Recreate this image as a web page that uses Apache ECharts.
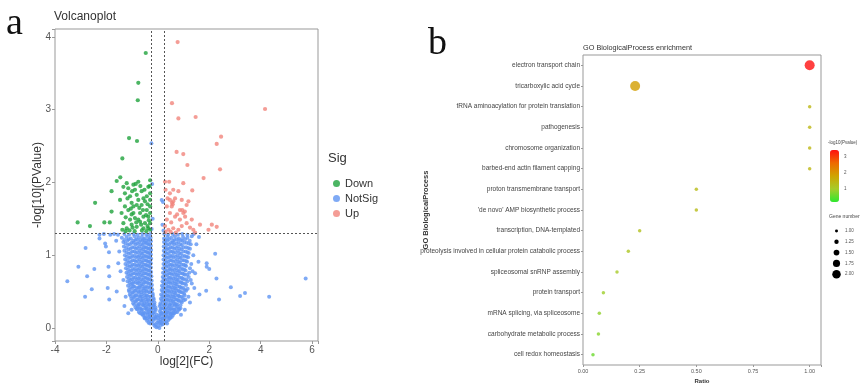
<!DOCTYPE html>
<html>
<head>
<meta charset="utf-8">
<script src="https://cdn.jsdelivr.net/npm/echarts@6/dist/echarts.min.js"></script>
<style>
  html, body { margin: 0; padding: 0; background: #fff; }
  #main { width: 866px; height: 383px; }
</style>
</head>
<body>
<div id="main"></div>
<script>
// panel a: volcano points [log2FC, -log10 P]
const downPoints = [
  [-0.47,3.78],[-0.76,3.37],[-0.78,3.13],[-1.12,2.61],[-0.81,2.57],[-1.38,2.33],[-1.60,2.02],[-1.46,2.07],
  [-2.44,1.72],[-1.80,1.88],[-3.12,1.45],[-2.64,1.40],[-2.08,1.45],[-1.87,1.45],[-1.80,1.60],[-0.30,2.03],[-0.32,1.95],
  [-1.34,1.94],[-1.28,1.85],[-1.15,1.92],[-1.08,1.81],[-0.95,1.97],[-0.89,1.90],[-0.82,1.83],[-1.02,1.72],
  [-1.28,1.67],[-1.15,1.62],[-0.95,1.58],[-0.76,1.76],[-0.63,1.69],[-0.50,1.74],[-0.43,1.62],[-0.37,1.94],
  [-0.30,1.85],[-0.30,1.76],[-0.37,1.53],[-0.56,1.53],[-0.69,1.46],[-0.82,1.39],[-1.02,1.42],[-1.21,1.37],
  [-1.34,1.44],[-1.08,1.49],[-0.89,1.51],[-0.69,1.58],[-0.50,1.44],[-0.37,1.37],[-0.30,1.44],[-0.30,1.58],
  [-0.30,1.67],[-0.63,1.88],[-0.76,2.01],[-1.21,1.99],[-1.47,1.76],[-1.41,1.58],[-1.38,1.35],[-0.56,1.78],
  [-0.43,1.81],[-0.95,1.67],[-0.82,1.69],[-1.02,1.56],[-0.76,1.49],[-0.56,1.37],[-0.30,1.35],[-0.45,1.33],
  [-0.62,1.34],[-0.90,1.33],[-1.10,1.34],[-1.25,1.33],[-0.52,1.90],[-0.68,1.95],[-0.86,1.98],[-1.00,1.88],
  [-1.18,1.78],[-0.40,1.70],[-0.35,1.48],[-0.72,1.65],[-1.05,1.64],[-1.25,1.52],[-0.58,1.62],[-0.46,1.55],
  [-0.65,1.42],[-0.84,1.45],[-0.98,1.38],[-0.40,1.40]
];
const upPoints = [
  [0.77,3.93],[0.55,3.09],[0.80,2.88],[1.47,2.90],[4.17,3.01],[2.46,2.63],[2.29,2.53],[0.73,2.42],
  [0.99,2.39],[1.15,2.24],[2.42,2.18],[1.78,2.06],[0.99,1.99],[0.28,2.01],[0.44,2.01],[1.34,1.89],
  [0.47,1.76],[0.60,1.74],[0.54,1.67],[0.67,1.78],[0.93,1.76],[0.99,1.58],[0.86,1.62],[1.12,1.69],
  [1.19,1.74],[1.06,1.53],[0.86,1.49],[0.67,1.53],[0.47,1.58],[0.35,1.49],[0.28,1.40],[0.41,1.35],
  [0.60,1.37],[0.80,1.35],[0.93,1.40],[1.12,1.44],[1.32,1.49],[1.38,1.35],[1.64,1.42],[1.97,1.35],
  [2.10,1.42],[2.29,1.39],[0.35,1.67],[0.80,1.88],[0.60,1.90],[0.47,1.85],[0.55,1.72],[0.58,1.70],
  [0.95,1.62],[1.05,1.60],[0.75,1.56],[0.52,1.45],[0.30,1.32],[0.50,1.32],[0.70,1.31],[1.45,1.31],
  [1.25,1.38],[0.38,1.78],[0.30,1.90]
];
const notSigPoints = [
  [-0.2,0.06],[-0.13,0.03],[-0.06,0.01],[0.0,0.02],[0.06,0.0],[0.12,0.04],[0.19,0.05],[-0.03,0.07],[0.09,0.08],
  [-0.42,0.1],[-0.33,0.12],[-0.25,0.09],[-0.16,0.11],[-0.08,0.13],[0.02,0.1],[0.1,0.12],[0.17,0.1],[0.25,0.13],[0.33,0.09],[0.41,0.11],
  [-0.57,0.17],[-0.48,0.15],[-0.39,0.18],[-0.3,0.16],[-0.21,0.19],[-0.12,0.16],[-0.04,0.18],[0.05,0.17],[0.14,0.19],[0.22,0.15],[0.31,0.18],[0.4,0.16],[0.49,0.19],[0.58,0.17],
  [-0.74,0.22],[-0.64,0.24],[-0.54,0.21],[-0.45,0.25],[-0.35,0.22],[-0.26,0.24],[-0.17,0.21],[-0.08,0.25],[0.08,0.23],[0.17,0.21],[0.26,0.25],[0.36,0.22],[0.45,0.24],[0.55,0.21],[0.65,0.25],[0.76,0.22],
  [-0.87,0.28],[-0.77,0.3],[-0.66,0.27],[-0.56,0.31],[-0.46,0.28],[-0.37,0.3],[-0.27,0.27],[-0.17,0.31],[-0.09,0.28],[0.07,0.3],[0.15,0.27],[0.25,0.31],[0.35,0.28],[0.45,0.3],[0.55,0.27],[0.66,0.31],[0.76,0.29],[0.88,0.27],
  [-0.96,0.34],[-0.85,0.36],[-0.74,0.33],[-0.63,0.37],[-0.53,0.34],[-0.43,0.36],[-0.33,0.33],[-0.23,0.37],[-0.13,0.35],[0.1,0.34],[0.2,0.36],[0.3,0.33],[0.41,0.37],[0.51,0.34],[0.61,0.36],[0.71,0.33],[0.82,0.37],[0.93,0.35],
  [-1.03,0.4],[-0.91,0.42],[-0.8,0.39],[-0.69,0.43],[-0.59,0.4],[-0.48,0.42],[-0.38,0.39],[-0.28,0.43],[-0.17,0.41],[0.12,0.4],[0.22,0.42],[0.33,0.39],[0.43,0.43],[0.53,0.4],[0.64,0.42],[0.74,0.39],[0.85,0.43],[0.97,0.41],[1.07,0.39],
  [-1.09,0.46],[-0.97,0.48],[-0.86,0.45],[-0.75,0.49],[-0.64,0.46],[-0.54,0.48],[-0.43,0.45],[-0.32,0.49],[-0.2,0.47],[0.13,0.46],[0.24,0.48],[0.35,0.45],[0.46,0.49],[0.57,0.46],[0.68,0.48],[0.79,0.45],[0.9,0.49],[1.02,0.47],
  [-1.13,0.52],[-1.01,0.54],[-0.89,0.51],[-0.77,0.55],[-0.66,0.52],[-0.55,0.54],[-0.44,0.51],[-0.33,0.55],[-0.22,0.53],[0.15,0.52],[0.26,0.54],[0.37,0.51],[0.48,0.55],[0.59,0.52],[0.7,0.54],[0.81,0.51],[0.93,0.55],[1.05,0.52],[1.16,0.54],
  [-1.16,0.58],[-1.04,0.6],[-0.92,0.57],[-0.8,0.61],[-0.69,0.58],[-0.57,0.6],[-0.46,0.57],[-0.35,0.61],[-0.23,0.59],[0.16,0.58],[0.27,0.6],[0.39,0.57],[0.5,0.61],[0.62,0.58],[0.73,0.6],[0.85,0.57],[0.97,0.61],[1.1,0.59],
  [-1.18,0.64],[-1.06,0.66],[-0.94,0.63],[-0.82,0.67],[-0.7,0.64],[-0.58,0.66],[-0.47,0.63],[-0.36,0.67],[-0.24,0.65],[0.18,0.64],[0.29,0.66],[0.41,0.63],[0.53,0.67],[0.65,0.64],[0.77,0.66],[0.89,0.63],[1.01,0.67],[1.15,0.64],[1.28,0.66],
  [-1.2,0.7],[-1.08,0.72],[-0.95,0.69],[-0.83,0.73],[-0.71,0.7],[-0.59,0.72],[-0.47,0.69],[-0.36,0.73],[-0.25,0.71],[0.19,0.7],[0.31,0.72],[0.43,0.69],[0.55,0.73],[0.67,0.7],[0.79,0.72],[0.92,0.69],[1.05,0.73],[1.2,0.7],
  [-1.22,0.76],[-1.09,0.78],[-0.96,0.75],[-0.84,0.79],[-0.72,0.76],[-0.6,0.78],[-0.48,0.75],[-0.37,0.79],[-0.26,0.77],[0.2,0.76],[0.32,0.78],[0.44,0.75],[0.57,0.79],[0.69,0.76],[0.82,0.78],[0.95,0.75],[1.08,0.79],[1.22,0.76],[1.35,0.78],
  [-1.24,0.82],[-1.1,0.84],[-0.97,0.81],[-0.84,0.85],[-0.72,0.82],[-0.6,0.84],[-0.49,0.81],[-0.38,0.85],[-0.27,0.83],[0.21,0.82],[0.33,0.84],[0.46,0.81],[0.58,0.85],[0.71,0.82],[0.84,0.84],[0.97,0.81],[1.1,0.85],[1.25,0.82],
  [-1.26,0.88],[-1.12,0.9],[-0.98,0.87],[-0.85,0.91],[-0.72,0.88],[-0.6,0.9],[-0.48,0.87],[-0.37,0.91],[-0.27,0.89],[0.22,0.88],[0.34,0.9],[0.47,0.87],[0.6,0.91],[0.73,0.88],[0.86,0.9],[1.0,0.87],[1.14,0.91],[1.3,0.88],
  [-1.27,0.94],[-1.12,0.96],[-0.98,0.93],[-0.84,0.97],[-0.71,0.94],[-0.59,0.96],[-0.47,0.93],[-0.36,0.97],[-0.26,0.95],[0.22,0.94],[0.35,0.96],[0.48,0.93],[0.61,0.97],[0.75,0.94],[0.88,0.96],[1.02,0.93],[1.18,0.97],
  [-1.28,1.0],[-1.13,1.02],[-0.99,0.99],[-0.85,1.03],[-0.72,1.0],[-0.6,1.02],[-0.48,0.99],[-0.37,1.03],[-0.27,1.01],[0.22,1.0],[0.35,1.02],[0.48,0.99],[0.62,1.03],[0.76,1.0],[0.9,1.02],[1.05,0.99],[1.2,1.03],[1.38,1.0],
  [-1.3,1.06],[-1.14,1.08],[-0.99,1.05],[-0.85,1.09],[-0.71,1.06],[-0.58,1.08],[-0.47,1.05],[-0.36,1.09],[-0.26,1.07],[0.23,1.06],[0.36,1.08],[0.5,1.05],[0.64,1.09],[0.78,1.06],[0.92,1.08],[1.08,1.05],[1.25,1.09],
  [-1.32,1.12],[-1.16,1.14],[-1.0,1.11],[-0.86,1.15],[-0.72,1.12],[-0.59,1.14],[-0.47,1.11],[-0.36,1.15],[-0.27,1.13],[0.23,1.12],[0.36,1.14],[0.5,1.11],[0.64,1.15],[0.78,1.12],[0.93,1.14],[1.1,1.11],[1.28,1.15],
  [-1.34,1.18],[-1.18,1.2],[-1.02,1.17],[-0.87,1.21],[-0.73,1.18],[-0.6,1.2],[-0.48,1.17],[-0.37,1.21],[-0.27,1.19],[0.24,1.18],[0.37,1.2],[0.51,1.17],[0.65,1.21],[0.8,1.18],[0.95,1.2],[1.12,1.17],
  [-1.4,1.24],[-1.22,1.25],[-1.05,1.23],[-0.9,1.26],[-0.75,1.24],[-0.62,1.25],[-0.5,1.23],[-0.39,1.26],[-0.28,1.24],[0.24,1.23],[0.37,1.25],[0.52,1.24],[0.66,1.26],[0.82,1.23],[0.98,1.25],[1.15,1.24],[1.32,1.26],
  [-2.27,1.28],[-2.1,1.29],[-1.85,1.28],[-1.7,1.29],[-1.55,1.28],[-1.3,1.29],[-1.12,1.28],[-0.95,1.29],[-0.78,1.28],[-0.6,1.29],[-0.45,1.28],[-0.3,1.29],[0.25,1.29],[0.4,1.28],[0.58,1.29],[0.78,1.28],[0.95,1.29],[1.15,1.28],[1.4,1.29],
  [-0.36,0.07],[-0.09,0.05],[0.05,0.06],[0.15,0.07],[0.36,0.06],
  [-0.52,0.14],[-0.43,0.13],[-0.35,0.15],[-0.26,0.14],[-0.17,0.13],[-0.08,0.15],[0.0,0.14],[0.09,0.15],[0.19,0.13],[0.28,0.14],[0.37,0.15],[0.46,0.13],[0.54,0.15],
  [-0.69,0.2],[-0.59,0.19],[-0.5,0.2],[-0.4,0.21],[-0.3,0.19],[-0.21,0.2],[-0.12,0.22],[0.12,0.2],[0.21,0.19],[0.31,0.2],[0.4,0.21],[0.5,0.19],[0.6,0.2],[0.7,0.22],
  [-0.82,0.26],[-0.71,0.27],[-0.61,0.25],[-0.5,0.27],[-0.41,0.26],[-0.31,0.25],[-0.22,0.27],[-0.13,0.26],[0.11,0.26],[0.2,0.27],[0.3,0.25],[0.4,0.27],[0.5,0.26],[0.6,0.25],[0.71,0.27],[0.83,0.26],
  [-0.92,0.32],[-0.8,0.31],[-0.7,0.33],[-0.6,0.32],[-0.5,0.31],[-0.41,0.33],[-0.31,0.32],[-0.21,0.31],[-0.13,0.32],[0.12,0.32],[0.25,0.31],[0.35,0.33],[0.46,0.32],[0.56,0.31],[0.66,0.33],[0.77,0.32],[0.88,0.31],
  [-0.99,0.38],[-0.88,0.37],[-0.77,0.39],[-0.67,0.38],[-0.56,0.37],[-0.46,0.39],[-0.36,0.38],[-0.25,0.37],[-0.16,0.39],[0.16,0.38],[0.27,0.37],[0.38,0.39],[0.48,0.38],[0.58,0.37],[0.69,0.39],[0.79,0.38],[0.9,0.37],[1.01,0.38],
  [-1.06,0.44],[-0.95,0.43],[-0.84,0.45],[-0.73,0.44],[-0.62,0.43],[-0.51,0.45],[-0.41,0.44],[-0.3,0.43],[-0.2,0.45],[0.17,0.44],[0.28,0.43],[0.39,0.45],[0.49,0.44],[0.6,0.43],[0.7,0.45],[0.81,0.44],[0.92,0.43],[1.04,0.45],
  [-1.11,0.5],[-0.99,0.49],[-0.88,0.51],[-0.76,0.5],[-0.65,0.49],[-0.55,0.51],[-0.44,0.5],[-0.33,0.49],[-0.24,0.51],[0.19,0.5],[0.3,0.49],[0.41,0.51],[0.52,0.5],[0.63,0.49],[0.74,0.51],[0.85,0.5],[0.96,0.49],[1.1,0.51],
  [-1.07,0.56],[-0.95,0.57],[-0.83,0.55],[-0.72,0.56],[-0.61,0.57],[-0.5,0.55],[-0.39,0.56],[-0.28,0.57],[0.21,0.56],[0.32,0.55],[0.43,0.57],[0.54,0.56],[0.65,0.55],[0.76,0.57],[0.87,0.56],[1.0,0.55],
  [-1.1,0.62],[-0.98,0.61],[-0.86,0.63],[-0.75,0.62],[-0.63,0.61],[-0.52,0.63],[-0.41,0.62],[-0.29,0.61],[0.22,0.62],[0.34,0.61],[0.45,0.63],[0.57,0.62],[0.68,0.61],[0.8,0.63],[0.92,0.62],[1.05,0.61],
  [-1.12,0.68],[-1.0,0.67],[-0.88,0.69],[-0.76,0.68],[-0.64,0.67],[-0.53,0.69],[-0.41,0.68],[-0.3,0.67],[0.24,0.68],[0.36,0.67],[0.48,0.69],[0.6,0.68],[0.72,0.67],[0.84,0.69],[0.96,0.68],[1.1,0.67],
  [-1.15,0.74],[-1.02,0.73],[-0.89,0.75],[-0.77,0.74],[-0.65,0.73],[-0.53,0.75],[-0.42,0.74],[-0.31,0.73],[0.26,0.74],[0.38,0.73],[0.5,0.75],[0.62,0.74],[0.74,0.73],[0.87,0.75],[1.0,0.74],[1.14,0.73],
  [-1.16,0.8],[-1.03,0.79],[-0.9,0.81],[-0.78,0.8],[-0.66,0.79],[-0.54,0.81],[-0.43,0.8],[-0.32,0.79],[0.27,0.8],[0.39,0.79],[0.51,0.81],[0.64,0.8],[0.77,0.79],[0.9,0.81],[1.03,0.8],
  [-1.18,0.86],[-1.04,0.85],[-0.91,0.87],[-0.78,0.86],[-0.66,0.85],[-0.54,0.87],[-0.43,0.86],[-0.32,0.85],[0.28,0.86],[0.4,0.85],[0.53,0.87],[0.66,0.86],[0.79,0.85],[0.92,0.87],[1.06,0.86],
  [-1.19,0.92],[-1.05,0.91],[-0.91,0.93],[-0.78,0.92],[-0.65,0.91],[-0.53,0.93],[-0.42,0.92],[-0.31,0.91],[0.28,0.92],[0.41,0.91],[0.54,0.93],[0.68,0.92],[0.81,0.91],[0.95,0.93],[1.1,0.92],
  [-1.2,0.98],[-1.06,0.97],[-0.92,0.99],[-0.78,0.98],[-0.66,0.97],[-0.54,0.99],[-0.42,0.98],[-0.32,0.97],[0.28,0.98],[0.42,0.97],[0.55,0.99],[0.69,0.98],[0.83,0.97],[0.97,0.99],[1.12,0.98],
  [-1.21,1.04],[-1.06,1.03],[-0.92,1.05],[-0.78,1.04],[-0.65,1.03],[-0.53,1.05],[-0.42,1.04],[-0.31,1.03],[0.29,1.04],[0.42,1.03],[0.56,1.05],[0.7,1.04],[0.84,1.03],[0.99,1.05],[1.15,1.04],
  [-1.23,1.1],[-1.07,1.09],[-0.92,1.11],[-0.79,1.1],[-0.65,1.09],[-0.53,1.11],[-0.42,1.1],[-0.31,1.09],[0.3,1.1],[0.43,1.09],[0.57,1.11],[0.71,1.1],[0.85,1.09],[1.0,1.11],[1.18,1.1],
  [-1.25,1.16],[-1.09,1.15],[-0.94,1.17],[-0.8,1.16],[-0.66,1.15],[-0.54,1.17],[-0.42,1.16],[-0.32,1.15],[0.3,1.16],[0.44,1.15],[0.58,1.17],[0.72,1.16],[0.87,1.15],[1.03,1.17],[1.2,1.16],
  [-1.3,1.21],[-1.13,1.22],[-0.96,1.2],[-0.82,1.22],[-0.68,1.21],[-0.55,1.22],[-0.44,1.2],[-0.33,1.22],[0.3,1.21],[0.44,1.22],[0.59,1.2],[0.74,1.22],[0.9,1.21],[1.06,1.22],[1.24,1.2],
  [-3.52,0.64],[-3.09,0.84],[-2.81,1.1],[-2.75,0.71],[-2.57,0.53],[-2.83,0.43],[-2.47,0.81],[-2.27,1.23],[-1.92,0.84],[-1.89,0.71],
  [-1.95,0.55],[-1.89,0.39],[-1.6,0.5],[-1.54,0.89],[-1.34,0.66],[-1.25,0.43],[-2.05,1.16],[-1.02,0.25],[-2.02,1.12],[-1.9,1.04],
  [-1.62,1.2],[-1.5,1.05],[-1.45,0.78],[-1.3,0.3],[-1.15,0.2],[2.23,1.02],[1.9,0.84],[2.0,0.81],[2.28,0.68],[1.88,0.51],
  [1.62,0.46],[2.84,0.56],[2.38,0.39],[3.2,0.44],[3.39,0.48],[4.33,0.43],[5.75,0.68],[1.58,0.91],[1.45,0.75],[1.19,0.43],
  [1.32,0.61],[1.9,0.89],[1.5,1.15],[1.6,1.25],[1.42,0.55],[1.25,0.35],[1.05,0.25],[0.9,0.18],
  [-0.3,0.06],[0.28,0.07],[-0.5,0.13],[0.48,0.14],[-0.62,0.19],[0.64,0.2],[-0.8,0.26],[0.82,0.25],
  [-0.25,2.54],[-0.22,1.98],[0.15,1.76],[0.2,1.73],[-0.2,1.5],[0.18,1.42],[-0.24,1.36],[0.22,1.34]
];
const fcCut = 0.263;
const pCut = 1.301;

// panel b: GO enrichment
const goTerms = [
  'electron transport chain',
  'tricarboxylic acid cycle',
  'tRNA aminoacylation for protein translation',
  'pathogenesis',
  'chromosome organization',
  'barbed-end actin filament capping',
  'proton transmembrane transport',
  "'de novo' AMP biosynthetic process",
  'transcription, DNA-templated',
  'proteolysis involved in cellular protein catabolic process',
  'spliceosomal snRNP assembly',
  'protein transport',
  'mRNA splicing, via spliceosome',
  'carbohydrate metabolic process',
  'cell redox homeostasis'
];
const goRatio = [1.0, 0.23, 1.0, 1.0, 1.0, 1.0, 0.5, 0.5, 0.25, 0.2, 0.15, 0.09, 0.072, 0.068, 0.044];
const goLogP = [3.42, 1.9, 1.45, 1.45, 1.45, 1.45, 1.35, 1.35, 1.25, 1.15, 1.05, 0.95, 0.85, 0.8, 0.6];
const goCount = [2, 2, 1, 1, 1, 1, 1, 1, 1, 1, 1, 1, 1, 1, 1];
const colorTicks = [1, 2, 3];
const sizeTicks = [1.00, 1.25, 1.50, 1.75, 2.00];

const pMin = 0.2, pMax = 3.42;
const sizeOf = n => 3.5 + (n - 1) * 6.5;

const font = 'Liberation Sans';
const dom = document.getElementById('main');
const myChart = echarts.init(dom, null, { renderer: 'canvas' });

const intOnly = v => (Math.abs(v - Math.round(v)) < 1e-6 ? String(Math.round(v)) : '');

// colour bar position
const barTop = 150, barH = 52, barLeft = 830;
const graphics = [
  { type: 'text', left: 6, top: 5, style: { text: 'a', font: '38px "Liberation Serif"', fill: '#111' } },
  { type: 'text', left: 428, top: 25, style: { text: 'b', font: '38px "Liberation Serif"', fill: '#111' } },
  { type: 'text', left: 328, top: 152, style: { text: 'Sig', font: '13px "Liberation Sans"', fill: '#333' } },
  { type: 'text', left: 828, top: 140, style: { text: '-log10(Pvalue)', font: '4.5px "Liberation Sans"', fill: '#444' } },
  { type: 'text', left: 829, top: 214, style: { text: 'Gene number', font: '5px "Liberation Sans"', fill: '#444' } }
];
colorTicks.forEach(v => {
  graphics.push({
    type: 'text', left: barLeft + 14, top: barTop + barH * (pMax - v) / (pMax - pMin) - 2.5,
    style: { text: String(v), font: '4.5px "Liberation Sans"', fill: '#555' }
  });
});
sizeTicks.forEach((v, i) => {
  const cy = 231 + i * 10.8;
  graphics.push({ type: 'circle', shape: { cx: 836.5, cy: cy, r: sizeOf(v) / 2 * 0.85 }, style: { fill: '#000' } });
  graphics.push({ type: 'text', left: 845, top: cy - 2.5, style: { text: v.toFixed(2), font: '4.5px "Liberation Sans"', fill: '#555' } });
});

const option = {
  backgroundColor: '#fff',
  animation: false,
  textStyle: { fontFamily: font },
  title: [
    { text: 'Volcanoplot', left: 54, top: 11, padding: 0, textStyle: { fontSize: 12, fontWeight: 'normal', color: '#333', fontFamily: font } },
    { text: 'GO BiologicalProcess enrichment', left: 583, top: 44, padding: 0, textStyle: { fontSize: 7.3, fontWeight: 'normal', color: '#333', fontFamily: font } }
  ],
  legend: {
    data: ['Down', 'NotSig', 'Up'],
    orient: 'vertical', left: 333, top: 178, padding: 0,
    itemWidth: 7, itemHeight: 7, itemGap: 4, icon: 'circle',
    textStyle: { fontSize: 11, color: '#333', fontFamily: font }
  },
  grid: [
    { left: 55, top: 29, width: 263, height: 312, show: true, borderColor: '#999', borderWidth: 1, backgroundColor: '#fff', outerBoundsMode: 'none' },
    { left: 583, top: 55, width: 238, height: 310, show: true, borderColor: '#999', borderWidth: 1, backgroundColor: '#fff', outerBoundsMode: 'none' }
  ],
  xAxis: [
    {
      gridIndex: 0, type: 'value', min: -4, max: 6.23, interval: 2,
      name: 'log[2](FC)', nameLocation: 'middle', nameGap: 15, nameMoveOverlap: false,
      nameTextStyle: { fontSize: 12, color: '#333' },
      axisLine: { show: false, onZero: false }, splitLine: { show: false },
      axisTick: { show: true, length: 3, lineStyle: { color: '#999' } },
      axisLabel: { fontSize: 10, color: '#555', margin: 4, formatter: intOnly }
    },
    {
      gridIndex: 1, type: 'value', min: 0, max: 1.05, interval: 0.25,
      name: 'Ratio', nameLocation: 'middle', nameGap: 13, nameMoveOverlap: false,
      nameTextStyle: { fontSize: 6, fontWeight: 'bold', color: '#333' },
      axisLine: { show: false, onZero: false }, splitLine: { show: false },
      axisTick: { show: true, length: 2, lineStyle: { color: '#999' } },
      axisLabel: { fontSize: 5.5, color: '#555', margin: 3, formatter: v => (v <= 1.0001 ? v.toFixed(2) : '') }
    }
  ],
  yAxis: [
    {
      gridIndex: 0, type: 'value', min: -0.18, max: 4.11,
      name: '-log[10](PValue)', nameLocation: 'middle', nameGap: 11, nameMoveOverlap: false,
      nameTextStyle: { fontSize: 12, color: '#333' },
      axisLine: { show: false, onZero: false }, splitLine: { show: false },
      axisTick: { show: true, length: 3, lineStyle: { color: '#999' } },
      axisLabel: { fontSize: 10, color: '#555', margin: 4, formatter: intOnly }
    },
    {
      gridIndex: 1, type: 'category', data: goTerms, inverse: true,
      name: 'GO BiologicalProcess', nameLocation: 'middle', nameGap: 153, nameRotate: 90, nameMoveOverlap: false,
      nameTextStyle: { fontSize: 7.5, fontWeight: 'bold', color: '#333' },
      axisLine: { show: false, onZero: false }, splitLine: { show: false },
      axisTick: { show: true, length: 2, alignWithLabel: true, lineStyle: { color: '#999' } },
      axisLabel: { fontSize: 6.5, color: '#444', margin: 3 }
    }
  ],
  visualMap: {
    type: 'continuous', seriesIndex: 3, dimension: 2,
    min: pMin, max: pMax, left: barLeft, top: barTop, padding: 0,
    itemWidth: 9, itemHeight: barH, calculable: false, hoverLink: false,
    inRange: { color: ['#2ee82e', '#a6cc2a', '#cfa400', '#ee6a00', '#ff1010'] },
    textStyle: { fontSize: 1, color: 'transparent' }
  },
  series: [
    {
      name: 'NotSig', type: 'scatter', xAxisIndex: 0, yAxisIndex: 0,
      data: notSigPoints, symbolSize: 4,
      itemStyle: { color: '#5f95f2' },
      markLine: {
        silent: true, symbol: 'none', animation: false,
        label: { show: false },
        lineStyle: { color: '#555', type: [2, 2], width: 1 },
        data: [{ xAxis: -fcCut }, { xAxis: fcCut }, { yAxis: pCut }]
      },
      z: 2
    },
    {
      name: 'Down', type: 'scatter', xAxisIndex: 0, yAxisIndex: 0,
      data: downPoints, symbolSize: 4.2,
      itemStyle: { color: '#1fa33c' }, z: 3
    },
    {
      name: 'Up', type: 'scatter', xAxisIndex: 0, yAxisIndex: 0,
      data: upPoints, symbolSize: 4.2,
      itemStyle: { color: '#f1847c' }, z: 3
    },
    {
      name: 'GO', type: 'scatter', xAxisIndex: 1, yAxisIndex: 1,
      data: goTerms.map((t, i) => [goRatio[i], t, goLogP[i], goCount[i]]),
      symbolSize: d => sizeOf(d[3]),
      z: 3
    }
  ],
  graphic: graphics
};

myChart.setOption(option);
</script>
</body>
</html>
